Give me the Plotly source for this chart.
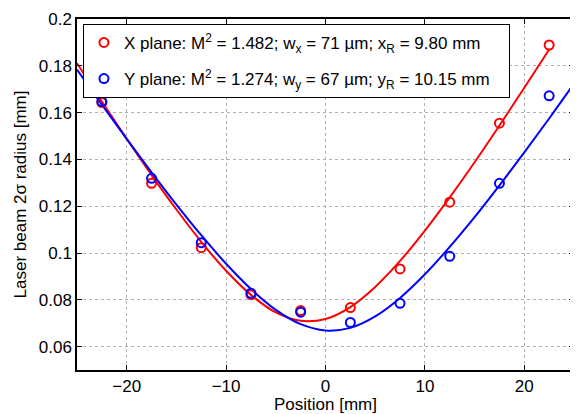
import plotly.graph_objects as go

# measured points
pos = [-22.5, -17.5, -12.5, -7.5, -2.5, 2.5, 7.5, 12.5, 17.5, 22.5]
x_plane = [0.1643, 0.1298, 0.1023, 0.0822, 0.0754, 0.0767, 0.0932, 0.1217, 0.1555, 0.1889]
y_plane = [0.1647, 0.1319, 0.1044, 0.0828, 0.0747, 0.0703, 0.0785, 0.0986, 0.1298, 0.1672]

# fitted curves (values read at 2.5 mm steps)
fit_pos_x = [-25, -22.5, -20, -17.5, -15, -12.5, -10, -7.5, -5, -2.5, 0, 2.5, 5, 7.5, 10, 12.5, 15, 17.5, 20, 22.5]
fit_x = [0.1811, 0.1647, 0.1488, 0.1333, 0.1186, 0.1048, 0.0924, 0.0821, 0.0746, 0.0710,
         0.0718, 0.0769, 0.0855, 0.0966, 0.1096, 0.1238, 0.1388, 0.1545, 0.1706, 0.1870]
fit_pos_y = [-25, -22.5, -20, -17.5, -15, -12.5, -10, -7.5, -5, -2.5, 0, 2.5, 5, 7.5, 10, 12.5, 15, 17.5, 20, 22.5, 25]
fit_y = [0.1784, 0.1634, 0.1488, 0.1345, 0.1207, 0.1076, 0.0954, 0.0846, 0.0757, 0.0696,
         0.0669, 0.0680, 0.0729, 0.0808, 0.0909, 0.1026, 0.1153, 0.1289, 0.1430, 0.1575, 0.1724]

x_ticks = [-20, -10, 0, 10, 20]
y_ticks = [0.06, 0.08, 0.1, 0.12, 0.14, 0.16, 0.18, 0.2]
y_tick_labels = ["0.06", "0.08", "0.1", "0.12", "0.14", "0.16", "0.18", "0.2"]

PAD = "\u00a0\u00a0\u00a0"
label_x = "X plane: M<sup>2</sup> = 1.482; w<sub>x</sub> = 71 µm; x<sub>R</sub> = 9.80 mm" + PAD
label_y = "Y plane: M<sup>2</sup> = 1.274; w<sub>y</sub> = 67 µm; y<sub>R</sub> = 10.15 mm" + PAD

RED = "#ff0000"
BLUE = "#0000ff"
FONT = "Liberation Sans, Arial, sans-serif"
FS = 17

fig = go.Figure()
fig.add_trace(go.Scatter(x=fit_pos_x, y=fit_x, mode="lines", line=dict(color=RED, width=2, shape="spline"),
                         showlegend=False, hoverinfo="skip"))
fig.add_trace(go.Scatter(x=fit_pos_y, y=fit_y, mode="lines", line=dict(color=BLUE, width=2, shape="spline"),
                         showlegend=False, hoverinfo="skip"))
fig.add_trace(go.Scatter(x=pos, y=x_plane, mode="markers", name=label_x, legendgroup="gx",
                         marker=dict(symbol="circle-open", size=9, color=RED, line=dict(width=2, color=RED))))
fig.add_trace(go.Scatter(x=pos, y=y_plane, mode="markers", name=label_y, legendgroup="gy",
                         marker=dict(symbol="circle-open", size=9, color=BLUE, line=dict(width=2, color=BLUE))))

axis_common = dict(
    showline=True, linecolor="#000000", linewidth=1.5, mirror="allticks",
    ticks="inside", ticklen=5, tickwidth=1, tickcolor="#000000",
    showgrid=True, gridcolor="#b0b0b0", griddash="dot", gridwidth=1,
    zeroline=False, tickfont=dict(family=FONT, size=FS, color="#000000"),
    ticklabeloverflow="allow",
)

fig.update_xaxes(range=[-25, 25], tickvals=x_ticks,
                 title=dict(text="Position [mm]", font=dict(family=FONT, size=FS, color="#000000"), standoff=0),
                 **axis_common)
fig.update_yaxes(range=[0.05, 0.20001], tickvals=y_ticks, ticktext=y_tick_labels,
                 title=dict(text="Laser beam 2σ radius [mm]", font=dict(family=FONT, size=FS, color="#000000"), standoff=8),
                 **axis_common)

# page body has an 8px margin: offset the figure so the plot area lands where the reference has it
fig.update_layout(
    width=570, height=406,
    margin=dict(l=69, r=2, t=8, b=44),
    plot_bgcolor="#ffffff", paper_bgcolor="#ffffff",
    font=dict(family=FONT, size=FS, color="#000000"),
    legend=dict(x=0.012, y=0.986, xanchor="left", yanchor="top",
                bgcolor="#ffffff", bordercolor="#000000", borderwidth=1,
                font=dict(family=FONT, size=FS, color="#000000"),
                itemwidth=30, tracegroupgap=11, groupclick="toggleitem"),
)

fig.write_html("out.html")
